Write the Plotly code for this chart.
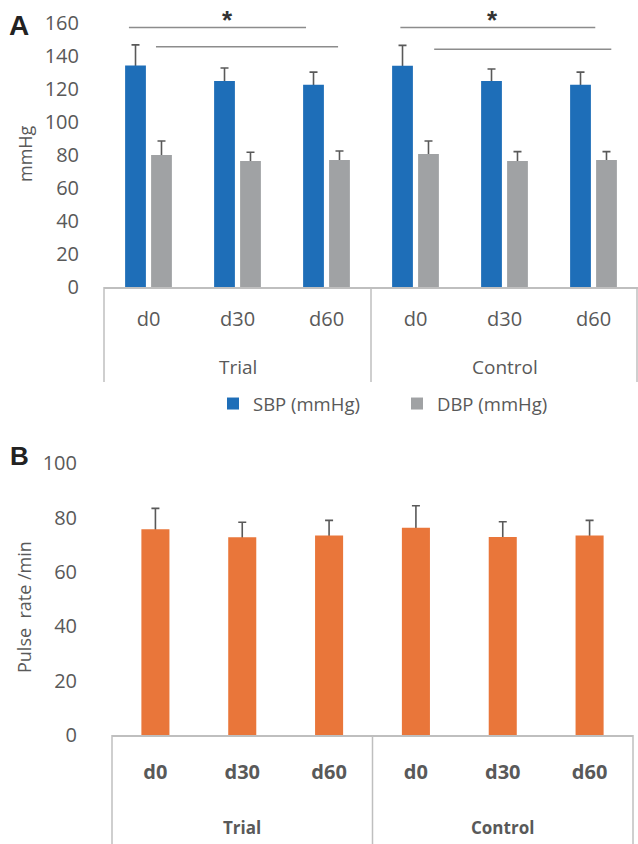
import plotly.graph_objects as go

# ---------------- data ----------------
groups = ["Trial", "Control"]
days = ["d0", "d30", "d60"]
sbp = [134.0, 124.6, 122.4, 133.8, 124.6, 122.4]
sbp_err = [12.5, 7.9, 7.6, 12.4, 7.3, 7.6]
dbp = [79.9, 76.2, 76.8, 80.5, 76.2, 76.8]
dbp_err = [8.4, 5.3, 5.5, 7.8, 5.7, 5.1]
pulse = [75.7, 72.8, 73.4, 76.3, 72.9, 73.4]
pulse_err = [7.7, 5.5, 5.6, 8.1, 5.6, 5.6]
# significance brackets: (x start, x end, height) in category-index units
sig_lines = [(-0.22, 1.77, 157.0), (0.084, 2.13, 145.4), (2.83, 5.02, 157.0), (3.21, 5.2, 143.8)]
sig_stars = [(0.89, 161.5), (3.87, 161.5)]
yticks_a = [0, 20, 40, 60, 80, 100, 120, 140, 160]
yticks_b = [0, 20, 40, 60, 80, 100]

W, H = 638, 844
labels = [d for g in groups for d in days]
xidx = list(range(len(labels)))

BLUE = "#1E6EB8"
GRAY = "#A0A2A4"
ORANGE = "#E9763A"
TXT = "#595959"
AXC = "#BFBFBF"
FONT = "Open Sans"

def px(x):
    return x / W

def py(y):
    return 1 - y / H

fig = go.Figure()
err_style = dict(type="data", symmetric=True, color="#595959", thickness=1.6, width=4)

def add_series(x, y, err, name, color, xa, ya, group, legend, width=None):
    # transparent carrier of the error bar, drawn first so the bar hides the lower half
    fig.add_trace(go.Bar(x=x, y=y, name=name, marker=dict(color="rgba(0,0,0,0)", line=dict(width=0)),
                         error_y=dict(array=err, **err_style), offsetgroup=group, width=width,
                         showlegend=False, hoverinfo="skip", xaxis=xa, yaxis=ya))
    fig.add_trace(go.Bar(x=x, y=y, name=name, marker=dict(color=color, line=dict(width=0)),
                         offsetgroup=group, width=width, showlegend=legend, xaxis=xa, yaxis=ya))

add_series(xidx, sbp, sbp_err, "SBP (mmHg)", BLUE, "x", "y", "sbp", True)
add_series(xidx, dbp, dbp_err, "DBP (mmHg)", GRAY, "x", "y", "dbp", True)
add_series(xidx, pulse, pulse_err, "Pulse", ORANGE, "x2", "y2", "pulse", False, width=0.323)

# Panel geometry (pixels)
A_left, A_right, A_zero, A_top = 104, 638, 287, 9.3
B_left, B_right, B_zero, B_top = 112, 633, 735, 463.3

fig.update_layout(
    width=W, height=H,
    margin=dict(l=0, r=0, t=0, b=0, autoexpand=False),
    paper_bgcolor="white", plot_bgcolor="white",
    barmode="group", bargap=0.416, bargroupgap=0.2,
    font=dict(family=FONT, color=TXT),
    showlegend=True,
    legend=dict(orientation="h", x=px(213), y=py(404), xanchor="left", yanchor="middle",
                font=dict(size=18.5, color=TXT, family=FONT), entrywidth=139,
                entrywidthmode="pixels", bgcolor="rgba(0,0,0,0)"),
    xaxis=dict(domain=[px(A_left), px(A_right)], range=[-0.5, 5.5], anchor="y", automargin=False,
               tickmode="array", tickvals=xidx, ticktext=labels,
               ticks="outside", ticklen=13, tickcolor="rgba(0,0,0,0)",
               tickfont=dict(size=20, color=TXT, family=FONT),
               showline=True, linecolor=AXC, linewidth=1.5, showgrid=False, zeroline=False),
    yaxis=dict(domain=[py(A_zero), py(A_top)], range=[0, 168], anchor="x", automargin=False,
               tickmode="array", tickvals=yticks_a,
               ticks="outside", ticklen=20, tickcolor="rgba(0,0,0,0)",
               tickfont=dict(size=20, color=TXT, family=FONT),
               showline=False, showgrid=False, zeroline=False),
    xaxis2=dict(domain=[px(B_left), px(B_right)], range=[-0.5, 5.5], anchor="y2", automargin=False,
                tickmode="array", tickvals=xidx, ticktext=labels,
                ticks="outside", ticklen=18, tickcolor="rgba(0,0,0,0)",
                tickfont=dict(size=20, color=TXT, family=FONT, weight="bold"),
                showline=True, linecolor=AXC, linewidth=1.5, showgrid=False, zeroline=False),
    yaxis2=dict(domain=[py(B_zero), py(B_top)], range=[0, 100], anchor="x2", automargin=False,
                tickmode="array", tickvals=yticks_b,
                ticks="outside", ticklen=30, tickcolor="rgba(0,0,0,0)",
                tickfont=dict(size=20, color=TXT, family=FONT),
                showline=False, showgrid=False, zeroline=False),
)

shapes = []
# category box lines below axes
for xp in [A_left, (A_left + A_right) / 2, A_right - 1]:
    shapes.append(dict(type="line", xref="paper", yref="paper", x0=px(xp), x1=px(xp),
                       y0=py(A_zero), y1=py(382), line=dict(color=AXC, width=1.5)))
for xp in [B_left, (B_left + B_right) / 2, B_right]:
    shapes.append(dict(type="line", xref="paper", yref="paper", x0=px(xp), x1=px(xp),
                       y0=py(B_zero), y1=0, line=dict(color=AXC, width=1.5)))
for x0, x1, yv in sig_lines:
    shapes.append(dict(type="line", xref="x", yref="y", x0=x0, x1=x1, y0=yv, y1=yv,
                       line=dict(color="#8C8C8C", width=1.5)))
fig.update_layout(shapes=shapes)

ann = []
for xs, ys in sig_stars:
    ann.append(dict(x=xs, y=ys, xref="x", yref="y", text="<b>*</b>", showarrow=False,
                    font=dict(size=26, color="#333333", family="Liberation Sans"),
                    xanchor="center", yanchor="middle"))
# group labels
n = len(days)
for gi, g in enumerate(groups):
    cx = gi * n + (n - 1) / 2
    ann.append(dict(x=cx, y=py(367), xref="x", yref="paper", text=g, showarrow=False,
                    font=dict(size=19, color=TXT, family=FONT), xanchor="center", yanchor="middle"))
    ann.append(dict(x=cx, y=py(827), xref="x2", yref="paper", text="<b>" + g + "</b>", showarrow=False,
                    font=dict(size=17, color=TXT, family=FONT), xanchor="center", yanchor="middle"))
# axis titles
ann.append(dict(x=px(25), y=py(154), xref="paper", yref="paper", text="mmHg", textangle=-90,
                showarrow=False, font=dict(size=18, color=TXT, family=FONT),
                xanchor="center", yanchor="middle"))
ann.append(dict(x=px(24), y=py(607), xref="paper", yref="paper", text="Pulse  rate /min", textangle=-90,
                showarrow=False, font=dict(size=18, color=TXT, family=FONT),
                xanchor="center", yanchor="middle"))
# panel letters
ann.append(dict(x=px(19), y=py(25), xref="paper", yref="paper", text="<b>A</b>", showarrow=False,
                font=dict(size=28, color="#222222", family="Liberation Sans"),
                xanchor="center", yanchor="middle"))
ann.append(dict(x=px(20), y=py(456), xref="paper", yref="paper", text="<b>B</b>", showarrow=False,
                font=dict(size=26, color="#222222", family="Liberation Sans"),
                xanchor="center", yanchor="middle"))
fig.update_layout(annotations=ann)

fig.write_html("out.html", config={"displayModeBar": False},
               post_script="document.body.style.margin='0';")
